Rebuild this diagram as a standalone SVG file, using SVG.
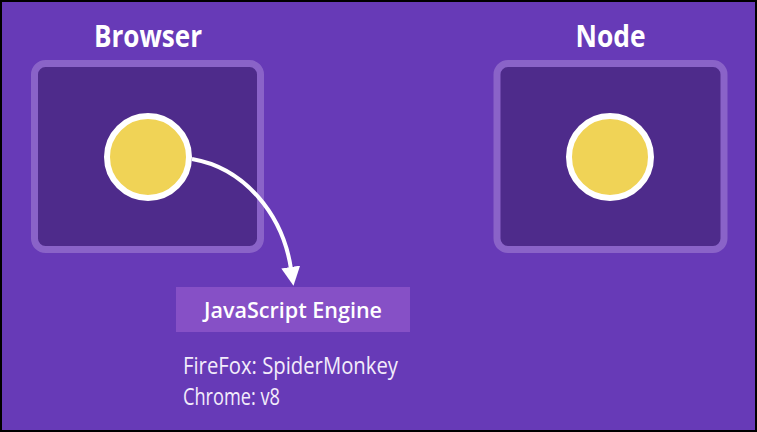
<svg xmlns="http://www.w3.org/2000/svg" width="757" height="432" viewBox="0 0 757 432">
<defs>
<style>
.bg{fill:#673ab7;stroke:#000;stroke-width:2}
.frame{fill:#4e2b8b;stroke:#8a63c8;stroke-width:7}
.dot{fill:#f0d356;stroke:#fff;stroke-width:6}
.title{font-family:"Open Sans","Noto Sans",sans-serif;font-weight:700;font-size:30px;fill:#fff;text-anchor:middle}
.lbl{font-family:"Open Sans","Noto Sans",sans-serif;font-weight:600;font-size:22px;fill:#fff}
.note{font-family:"Open Sans","Noto Sans",sans-serif;font-size:23px;fill:#f3ecfb}
.conn{fill:none;stroke:#fff;stroke-width:4}
</style>
<marker id="ah" markerWidth="19" markerHeight="19" refX="2" refY="9.5" orient="auto" markerUnits="userSpaceOnUse" viewBox="0 0 19 19">
<path d="M0,0 L19,9.5 L0,19 Z" fill="#fff"/>
</marker>
</defs>
<rect class="bg" x="1" y="1" width="755" height="430"/>
<g id="browser">
<text class="title" x="148" y="47" textLength="108" lengthAdjust="spacingAndGlyphs">Browser</text>
<rect class="frame" x="34.5" y="63.5" width="226" height="186" rx="11"/>
<circle class="dot" cx="148" cy="157" r="41"/>
</g>
<g id="node">
<text class="title" x="610.5" y="47" textLength="70" lengthAdjust="spacingAndGlyphs">Node</text>
<rect class="frame" x="497" y="63.5" width="227" height="186" rx="11"/>
<circle class="dot" cx="610" cy="157" r="41"/>
</g>
<g id="js-engine">
<rect x="176" y="287" width="234" height="45" fill="#8650c6"/>
<text class="lbl" x="293" y="318" text-anchor="middle" textLength="178" lengthAdjust="spacingAndGlyphs">JavaScript Engine</text>
</g>
<g id="notes">
<text class="note" x="183" y="374" textLength="215" lengthAdjust="spacingAndGlyphs">FireFox: SpiderMonkey</text>
<text class="note" x="183" y="405" textLength="97" lengthAdjust="spacingAndGlyphs">Chrome: v8</text>
</g>
<g id="connectors">
<path class="conn" d="M192,159 C245,168 283,215 291,269" marker-end="url(#ah)"/>
</g>
</svg>
